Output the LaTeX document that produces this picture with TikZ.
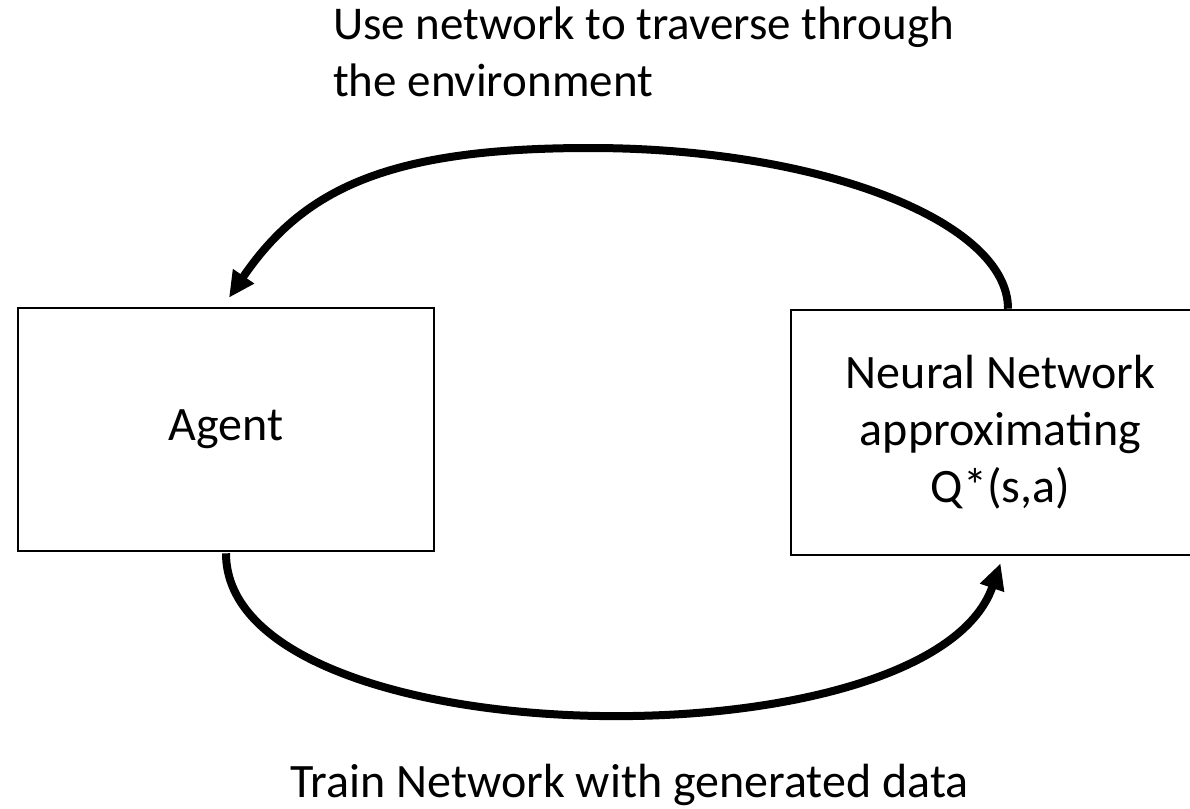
\documentclass[tikz,border=0pt]{standalone}
\usepackage{fontspec}
\setmainfont{Carlito}
\usetikzlibrary{arrows.meta}
\tikzset{
  box/.style={draw=black, line width=2.6bp, fill=white, inner sep=0pt,
    align=center, font=\fontsize{48bp}{57bp}\selectfont},
  loop/.style={line width=8bp, -{Triangle[length=26bp,width=24bp]}},
  caption/.style={inner sep=0pt, font=\fontsize{47bp}{57bp}\selectfont}
}
\begin{document}
\begin{tikzpicture}[x=1bp,y=-1bp]
  \useasboundingbox (0,0) rectangle (1190,809);
  \clip (0,0) rectangle (1190,809);

  % the two blocks
  \node[box, minimum width=416bp, minimum height=243bp] (agent) at (226,429.5) {Agent};
  \node[box, minimum width=419bp, minimum height=245bp] (qnet) at (1000.5,432.5)
    {Neural Network\\approximating\\Q*(s,a)};

  % loop arrows
  \coordinate (toppeak) at (590,148);
  \draw[loop] ([xshift=7.5bp]qnet.north)
    .. controls +(0,-87) and +(231,0) .. (toppeak)
    .. controls +(-200,0) and +(75,-110) .. ([shift={(3,-9)}]agent.north);
  \draw[loop] ([yshift=-1bp]agent.south)
    .. controls +(0,206) and +(-71,206) .. ([shift={(0,7)}]qnet.south);

  % captions (base anchor sits on the last line)
  \node[caption, anchor=base west, align=left] (use) at (333,97)
    {Use network to traverse through\\the environment};
  \node[caption, anchor=base west, font=\fontsize{48bp}{57bp}\selectfont] (train) at (290,797)
    {Train Network with generated data};
\end{tikzpicture}
\end{document}
